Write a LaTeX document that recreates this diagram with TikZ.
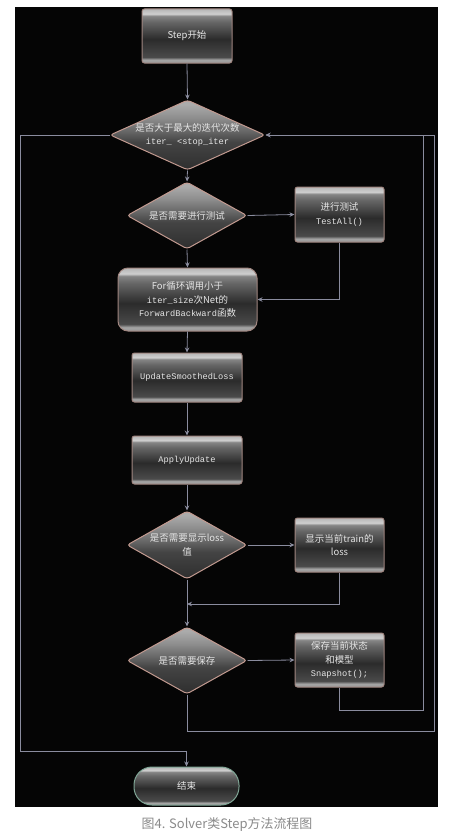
\documentclass[tikz,border=0pt]{standalone}
\usepackage{fontspec}
\setmainfont{Noto Sans CJK SC}
\setmonofont{Liberation Mono}
\usetikzlibrary{shapes.geometric,arrows.meta}
\definecolor{txt}{HTML}{E6E6E6}
\definecolor{boxedge}{HTML}{A08680}
\definecolor{diaedge}{HTML}{C29A90}
\definecolor{endedge}{HTML}{7FA595}
\definecolor{linec}{HTML}{8A8C9E}
\definecolor{capc}{HTML}{8A8A8A}
\definecolor{bgc}{HTML}{050505}
\definecolor{ga}{HTML}{9A9A9A}
\definecolor{gb}{HTML}{A4A4A4}
\definecolor{gc}{HTML}{4A4A4A}
\definecolor{gd}{HTML}{2B2B2B}
\definecolor{ge}{HTML}{666666}
\definecolor{gf}{HTML}{858585}
\definecolor{gg}{HTML}{CFCFCF}
\definecolor{gh}{HTML}{B5B5B5}
\definecolor{da}{HTML}{2E2E2E}
\definecolor{db}{HTML}{444444}
\definecolor{dc}{HTML}{636363}
\definecolor{dd}{HTML}{8C8C8C}
\definecolor{de}{HTML}{ABABAB}
\pgfdeclareverticalshading{glossybox}{100bp}{color(0bp)=(ga); color(25bp)=(ga); color(28bp)=(gb); color(30.5bp)=(gc); color(47bp)=(gd); color(63bp)=(ge); color(68.5bp)=(gf); color(70.5bp)=(gg); color(75bp)=(gh); color(100bp)=(gh)}
\pgfdeclareverticalshading{glossydia}{100bp}{color(0bp)=(da); color(25bp)=(da); color(45bp)=(db); color(52bp)=(dc); color(62bp)=(dd); color(72bp)=(de); color(75bp)=(de); color(100bp)=(de)}
\newcommand\codet[1]{{\ttfamily\fontsize{8.7}{13.5}\selectfont #1}}
\begin{document}
\begin{tikzpicture}[x=1bp,y=-1bp,
  font=\fontsize{9.5}{13.5}\selectfont,
  lbl/.style={text=txt, align=center, inner sep=0pt},
  box/.style={draw=boxedge, line width=1bp, shading=glossybox, rounded corners=2.5bp, inner sep=0pt, text=txt, align=center},
  dia/.style={diamond, draw=diaedge, line width=1bp, shading=glossydia, rounded corners=3bp, inner sep=0pt},
  conn/.style={draw=linec, line width=0.8bp},
  arr/.style={conn, -{Stealth[length=5bp,width=4.5bp]}}]
\useasboundingbox (0,0) rectangle (455,832);
\fill[white] (0,0) rectangle (455,832);
\fill[bgc] (15,7) rectangle (438,807);
% nodes
\node[box, minimum width=90bp, minimum height=54bp] (start) at (187,36) {Step开始};
\node[dia, minimum width=155bp, minimum height=70bp] (d1) at (187.5,135) {};
\node[lbl] (d1t) at (d1) {是否大于最大的迭代次数\\\codet{iter\_ <stop\_iter}};
\node[dia, minimum width=120bp, minimum height=67bp] (d2) at (187,215.5) {};
\node[lbl] (d2t) at (d2) {是否需要进行测试};
\node[box, minimum width=89bp, minimum height=55bp] (test) at (339.5,214.5) {进行测试\\\codet{TestAll()}};
\node[box, minimum width=139bp, minimum height=63bp, rounded corners=10bp] (forn) at (187.5,299.5) {For循环调用小于\\\codet{iter\_size}次Net的\\\codet{ForwardBackward}函数};
\node[box, minimum width=110bp, minimum height=49bp] (usl) at (187,377.5) {\codet{UpdateSmoothedLoss}};
\node[box, minimum width=110bp, minimum height=48bp] (apply) at (187,460) {\codet{ApplyUpdate}};
\node[dia, minimum width=120bp, minimum height=68bp] (d3) at (187,545) {};
\node[lbl] (d3t) at (d3) {是否需要显示loss\\值};
\node[box, minimum width=89bp, minimum height=54bp] (loss) at (339.5,545) {显示当前train的\\loss};
\node[dia, minimum width=120bp, minimum height=67bp] (d4) at (187,660.5) {};
\node[lbl] (d4t) at (d4) {是否需要保存};
\node[box, minimum width=89bp, minimum height=54bp] (snap) at (339.5,660) {保存当前状态\\和模型\\\codet{Snapshot();}};
\node[box, draw=endedge, minimum width=105bp, minimum height=38bp, rounded corners=18bp] (stopn) at (186.5,786) {结束};
\node[text=capc, inner sep=0pt, font=\fontsize{13}{15}\selectfont] (cap) at (227,824) {图4. Solver类Step方法流程图};
% helper coordinates
\coordinate (m1) at (187,604);
\coordinate (r1) at (423,710);
\coordinate (r2) at (434,731);
\coordinate (l1) at (20,751);
% connectors
\draw[arr] (start.south) -- (d1.north);
\draw[arr] (d1.south) -- (d2.north);
\draw[arr] (d2.east) -- (test.west);
\draw[arr] (d2.south) -- (forn.north);
\draw[arr] (test.south) |- (forn.east);
\draw[arr] (forn.south) -- (usl.north);
\draw[arr] (usl.south) -- (apply.north);
\draw[arr] (apply.south) -- (d3.north);
\draw[arr] (d3.east) -- (loss.west);
\draw[arr] (d3.south) -- (d4.north);
\draw[arr] (loss.south) |- (m1);
\draw[arr] (d4.east) -- (snap.west);
\draw[arr] (snap.south) |- (r1) |- (d1.east);
\draw[arr] (d4.south) |- (r2) |- (d1.east);
\draw[arr] (d1.west) -| (l1) -| (stopn.north);
\end{tikzpicture}
\end{document}
